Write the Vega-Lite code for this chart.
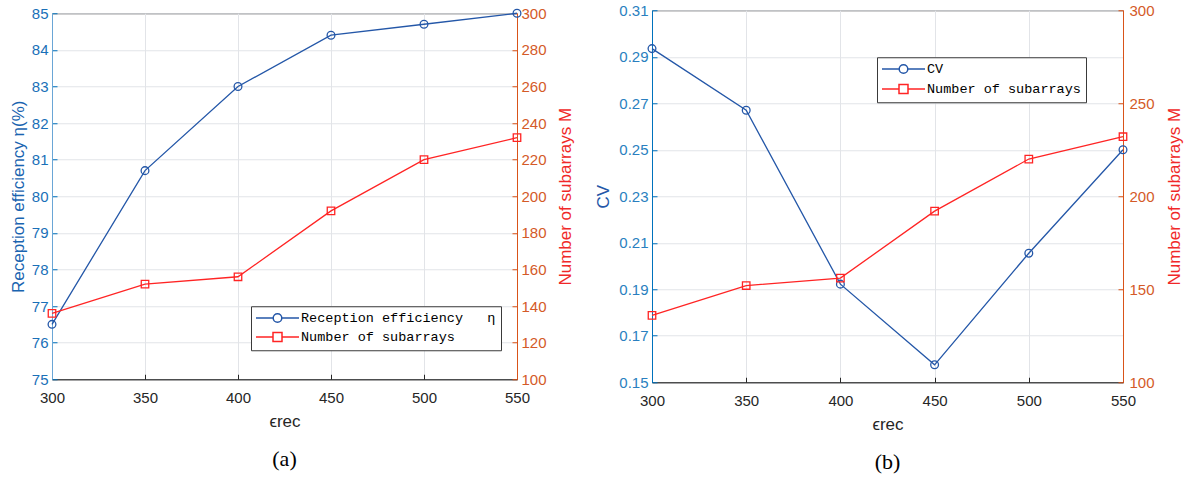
{
  "$schema": "https://vega.github.io/schema/vega-lite/v6.json",
  "padding": {"left": 8, "top": 2, "right": 2, "bottom": 0},
  "background": "white",
  "spacing": 20,
  "center": true,
  "config": {
    "font": "Liberation Sans",
    "view": {"stroke": "#262626", "strokeWidth": 1},
    "axis": {
      "labelFont": "Liberation Sans",
      "labelFontSize": 15,
      "titleFont": "Liberation Sans",
      "titleFontSize": 17,
      "titleFontWeight": "normal",
      "gridColor": "#e2e4e8",
      "gridWidth": 1,
      "tickSize": -5,
      "labelPadding": 9,
      "domainWidth": 1,
      "labelFlush": false,
      "labelOverlap": false
    },
    "title": {"font": "Liberation Serif", "fontSize": 22, "fontWeight": "normal", "color": "#000000"}
  },
  "datasets": {
    "a": [
      {"eps": 300, "eta": 76.5, "M": 136},
      {"eps": 350, "eta": 80.7, "M": 152},
      {"eps": 400, "eta": 83.0, "M": 156},
      {"eps": 450, "eta": 84.4, "M": 192},
      {"eps": 500, "eta": 84.7, "M": 220},
      {"eps": 550, "eta": 85.0, "M": 232}
    ],
    "b": [
      {"eps": 300, "cv": 0.2935, "M": 136},
      {"eps": 350, "cv": 0.2670, "M": 152},
      {"eps": 400, "cv": 0.1922, "M": 156},
      {"eps": 450, "cv": 0.1575, "M": 192},
      {"eps": 500, "cv": 0.2055, "M": 220},
      {"eps": 550, "cv": 0.2500, "M": 232}
    ]
  },
  "resolve": {"scale": {"color": "independent"}, "legend": {"color": "independent"}},
  "hconcat": [
    {
      "width": 465,
      "height": 366,
      "data": {"name": "a"},
      "title": {"text": "(a)", "orient": "bottom", "offset": 20},
      "encoding": {
        "x": {
          "field": "eps", "type": "quantitative",
          "scale": {"domain": [300, 550], "nice": false, "zero": false},
          "axis": {"values": [300, 350, 400, 450, 500, 550], "title": "ϵrec", "grid": true,
                   "domainColor": "#262626", "tickColor": "#262626", "labelColor": "#262626",
                   "titleColor": "#262626", "titlePadding": 8, "labelPadding": 16}
        }
      },
      "layer": [
        {
          "encoding": {
            "y": {
              "field": "eta", "type": "quantitative",
              "scale": {"domain": [75, 85], "nice": false, "zero": false},
              "axis": {"orient": "left", "values": [75, 76, 77, 78, 79, 80, 81, 82, 83, 84, 85], "format": "d",
                       "title": "Reception efficiency η(%)", "grid": true,
                       "domainColor": "#6aa6d6", "tickColor": "#0072BD", "labelColor": "#1a70b8",
                       "titleColor": "#1a64b0", "titlePadding": 4}
            }
          },
          "layer": [
            {"mark": {"type": "line", "color": "#2457A8", "strokeWidth": 1.3}},
            {
              "mark": {"type": "point", "shape": "circle", "filled": false, "size": 60, "strokeWidth": 1.3, "opacity": 1},
              "encoding": {
                "color": {
                  "datum": "Reception efficiency\u00a0\u00a0\u00a0η", "type": "nominal",
                  "scale": {"domain": ["Reception efficiency\u00a0\u00a0\u00a0η", "Number of subarrays"], "range": ["#2457A8", "#FF2424"]},
                  "legend": {
                    "title": null, "orient": "none", "legendX": 199, "legendY": 293,
                    "symbolSize": 100, "symbolStrokeWidth": 1.5, "symbolOffset": 14.75, "labelOffset": 16.75,
                    "symbolType": {"expr": "datum.value === 'Number of subarrays' ? 'M-4.3,0L-0.9,0M0.9,0L4.3,0M-0.9,-0.9L0.9,-0.9L0.9,0.9L-0.9,0.9Z' : 'M-4.3,0L-0.86,0M0.86,0L4.3,0M-0.86,0A0.86,0.86,0,1,0,0.86,0A0.86,0.86,0,1,0,-0.86,0Z'"},
                    "labelFont": "Liberation Mono", "labelFontSize": 13.5, "labelColor": "#000000",
                    "strokeColor": "#3a3a3a", "fillColor": "#ffffff", "padding": 5, "rowPadding": 3,
                    "labelLimit": 400
                  }
                }
              }
            }
          ]
        },
        {
          "encoding": {
            "y": {
              "field": "M", "type": "quantitative",
              "scale": {"domain": [100, 300], "nice": false, "zero": false},
              "axis": {"orient": "right", "values": [100, 120, 140, 160, 180, 200, 220, 240, 260, 280, 300], "format": "d",
                       "title": "Number of subarrays M", "titleAngle": 270, "titleBaseline": "top", "grid": false,
                       "domainColor": "#D95319", "tickColor": "#D95319", "labelColor": "#d45a28",
                       "titleColor": "#F02828", "titlePadding": 11}
            }
          },
          "layer": [
            {"mark": {"type": "line", "color": "#FF2424", "strokeWidth": 1.3}},
            {
              "mark": {"type": "point", "shape": "square", "filled": false, "size": 56, "strokeWidth": 1.3, "opacity": 1},
              "encoding": {"color": {"datum": "Number of subarrays", "type": "nominal"}}
            }
          ]
        }
      ],
      "resolve": {"scale": {"y": "independent"}}
    },
    {
      "width": 471,
      "height": 372,
      "data": {"name": "b"},
      "title": {"text": "(b)", "orient": "bottom", "offset": 20},
      "encoding": {
        "x": {
          "field": "eps", "type": "quantitative",
          "scale": {"domain": [300, 550], "nice": false, "zero": false},
          "axis": {"values": [300, 350, 400, 450, 500, 550], "title": "ϵrec", "grid": true,
                   "domainColor": "#262626", "tickColor": "#262626", "labelColor": "#262626",
                   "titleColor": "#262626", "titlePadding": 8, "labelPadding": 16}
        }
      },
      "layer": [
        {
          "encoding": {
            "y": {
              "field": "cv", "type": "quantitative",
              "scale": {"domain": [0.15, 0.31], "nice": false, "zero": false},
              "axis": {"orient": "left", "values": [0.15, 0.17, 0.19, 0.21, 0.23, 0.25, 0.27, 0.29, 0.31], "format": ".2f",
                       "title": "CV", "grid": true,
                       "domainColor": "#0072BD", "tickColor": "#0072BD", "labelColor": "#2a7fc0",
                       "titleColor": "#2457A8", "titlePadding": 6}
            }
          },
          "layer": [
            {"mark": {"type": "line", "color": "#2457A8", "strokeWidth": 1.3}},
            {
              "mark": {"type": "point", "shape": "circle", "filled": false, "size": 60, "strokeWidth": 1.3, "opacity": 1},
              "encoding": {
                "color": {
                  "datum": "CV", "type": "nominal",
                  "scale": {"domain": ["CV", "Number of subarrays\u00a0\u00a0\u00a0"], "range": ["#2457A8", "#FF2424"]},
                  "legend": {
                    "title": null, "orient": "none", "legendX": 225, "legendY": 47,
                    "symbolSize": 100, "symbolStrokeWidth": 1.5, "symbolOffset": 14.75, "labelOffset": 16.75,
                    "symbolType": {"expr": "datum.value === 'CV' ? 'M-4.3,0L-0.86,0M0.86,0L4.3,0M-0.86,0A0.86,0.86,0,1,0,0.86,0A0.86,0.86,0,1,0,-0.86,0Z' : 'M-4.3,0L-0.9,0M0.9,0L4.3,0M-0.9,-0.9L0.9,-0.9L0.9,0.9L-0.9,0.9Z'"},
                    "labelFont": "Liberation Mono", "labelFontSize": 13.5, "labelColor": "#000000",
                    "strokeColor": "#3a3a3a", "fillColor": "#ffffff", "padding": 5, "rowPadding": 4,
                    "labelLimit": 400
                  }
                }
              }
            }
          ]
        },
        {
          "encoding": {
            "y": {
              "field": "M", "type": "quantitative",
              "scale": {"domain": [100, 300], "nice": false, "zero": false},
              "axis": {"orient": "right", "values": [100, 150, 200, 250, 300], "format": "d",
                       "title": "Number of subarrays M", "titleAngle": 270, "titleBaseline": "top", "grid": false,
                       "domainColor": "#D95319", "tickColor": "#D95319", "labelColor": "#d45a28",
                       "titleColor": "#F02828", "titlePadding": 12, "labelPadding": 11}
            }
          },
          "layer": [
            {"mark": {"type": "line", "color": "#FF2424", "strokeWidth": 1.3}},
            {
              "mark": {"type": "point", "shape": "square", "filled": false, "size": 56, "strokeWidth": 1.3, "opacity": 1},
              "encoding": {"color": {"datum": "Number of subarrays\u00a0\u00a0\u00a0", "type": "nominal"}}
            }
          ]
        }
      ],
      "resolve": {"scale": {"y": "independent"}}
    }
  ]
}
